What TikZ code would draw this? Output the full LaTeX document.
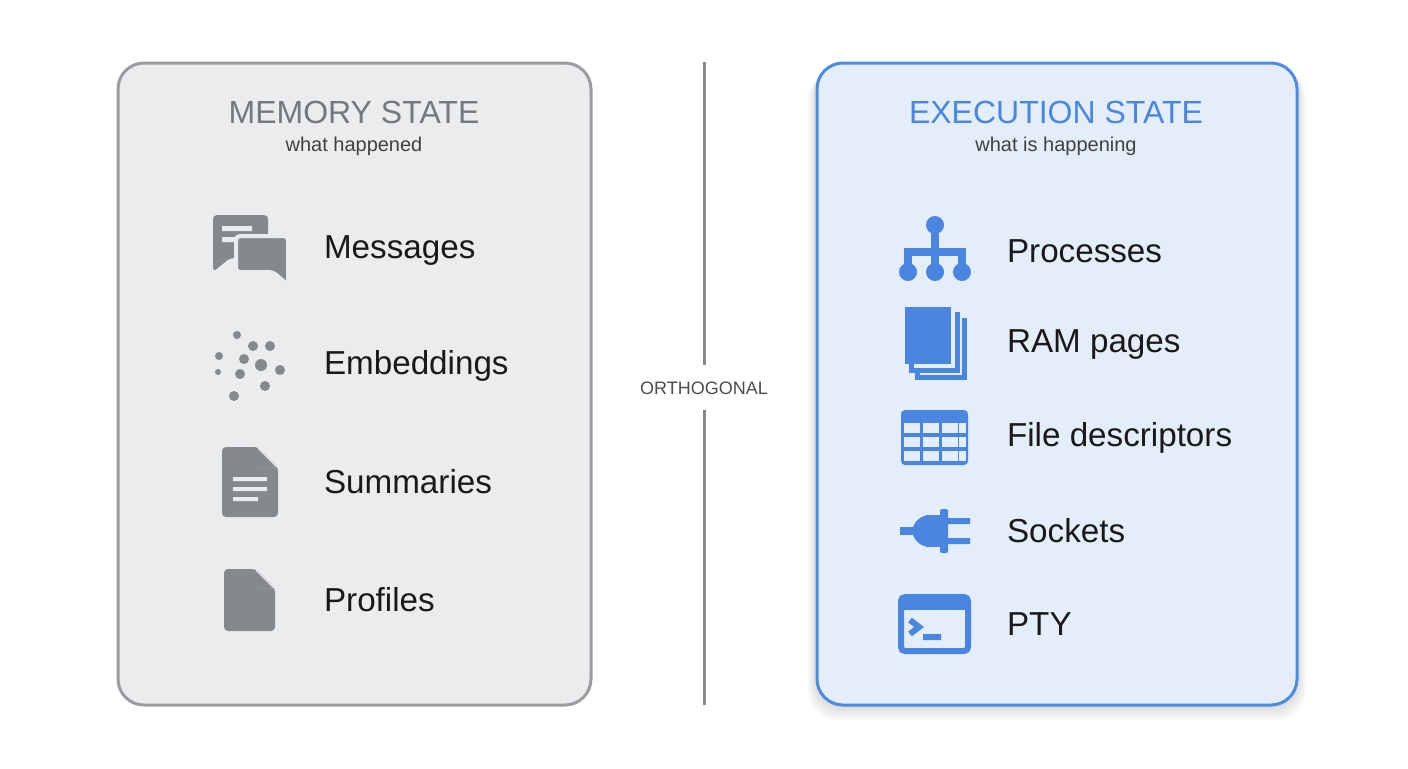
\documentclass[tikz,border=0pt]{standalone}
\usepackage{fontspec}
\setmainfont{Liberation Sans}
\definecolor{gbg}{HTML}{EBECEE}
\definecolor{gbd}{HTML}{9A9CA0}
\definecolor{gic}{HTML}{85888C}
\definecolor{gtx}{HTML}{75787C}
\definecolor{bbg}{HTML}{E4EEFB}
\definecolor{bbd}{HTML}{4C8BE0}
\definecolor{bic}{HTML}{4A86E0}
\begin{document}
\begin{tikzpicture}[x=0.5pt,y=-0.5pt,
 panel/.style={rounded corners=13pt,line width=1.5pt},
 ttl/.style={font=\fontsize{16}{19}\selectfont},
 sub/.style={font=\fontsize{10}{12}\selectfont,text=black!75},
 lab/.style={anchor=west,font=\fontsize{16.6}{19}\selectfont,text=black!90},
 gi/.style={fill=gic,draw=none},
 bi/.style={fill=bic,draw=none}]
\useasboundingbox[fill=white] (0,0) rectangle (1408,768);
\draw[panel,fill=gbg,draw=gbd] (118,63) rectangle (591,705);
\foreach \i in {1,...,6}
  \fill[black,opacity=0.025,rounded corners=14pt] (817-\i*1.5,63+\i*1.5) rectangle (1297+\i*1.5,705+\i*2.5);
\draw[panel,fill=bbg,draw=bbd] (817,63) rectangle (1297,705);
\node (mt) [ttl,text=gtx] at (354,112) {MEMORY STATE};
\node (ms) [sub] at (354,146) {what happened};
\node (et) [ttl,text=bic] at (1056,112) {EXECUTION STATE};
\node (es) [sub] at (1056,146) {what is happening};
\node (orth) [font=\fontsize{9}{11}\selectfont,text=black!70] at (704,388) {ORTHOGONAL};
\coordinate (d1) at (704,62); \coordinate (d2) at (704,705);
\draw[line width=1.5pt,gic] (d1) -- (orth.north|-0,365);
\draw[line width=1.5pt,gic] (orth.south|-0,410) -- (d2);
% left labels
\node (l1) [lab] at (317,251) {Messages};
\node (l2) [lab] at (317,366) {Embeddings};
\node (l3) [lab] at (317,482) {Summaries};
\node (l4) [lab] at (317,600) {Profiles};
% messages icon
\fill[gi,rounded corners=2pt] (213,215) -- (268,215) -- (268,258) -- (230,258) -- (213,272) -- cycle;
\fill[gbg] (222,226) rectangle (252,231) (222,237) rectangle (244,242);
\draw[gbg,line width=2pt,fill=gic,rounded corners=2pt] (236,236) -- (288,236) -- (288,285) -- (273,272) -- (236,272) -- cycle;
% embeddings dots
\foreach \x/\y/\r in {237/335/4,253/346/5,270/346/5,219/356/4,244/359/5,261/365/6,280/370/5,240/374/5,218/372/3,265/386/5,234/396/5}
  \fill[gi] (\x,\y) circle (\r);
% summaries doc
\fill[gi,rounded corners=2pt] (222,447) -- (258,447) -- (278,467) -- (278,517) -- (222,517) -- cycle;
\fill[gbg] (258,447) -- (258,467) -- (278,467) -- cycle;
\fill[gi] (258,449) -- (258,467) -- (276,467) -- cycle;
\fill[gbg] (233,477) rectangle (267,481) (233,487) rectangle (267,491) (233,497) rectangle (258,501);
% profiles doc
\fill[gi,rounded corners=2pt] (224,569) -- (256,569) -- (275,588) -- (275,631) -- (224,631) -- cycle;
\fill[gbg] (256,569) -- (256,588) -- (275,588) -- cycle;
\fill[gi] (256,571) -- (256,588) -- (273,588) -- cycle;
% right labels
\node (r1) [lab] at (1000,251) {Processes};
\node (r2) [lab] at (1000,345) {RAM pages};
\node (r3) [lab] at (1000,438) {File descriptors};
\node (r4) [lab] at (1000,531) {Sockets};
\node (r5) [lab] at (1000,624) {PTY};
% processes
\draw[bic,line width=4pt] (935,225) -- (935,252) (908,270) -- (908,252) -- (962,252) -- (962,270) (935,252) -- (935,270);
\fill[bi] (935,225) circle (9) (908,272) circle (9) (935,272) circle (9) (962,272) circle (9);
% RAM pages
\draw[bic,line width=2.5pt] (917,318) -- (917,377) -- (964,377) -- (964,318);
\draw[bic,line width=2.5pt,fill=bbg] (911,312) -- (911,370) -- (957,370) -- (957,312);
\fill[bi] (905,307) rectangle (951,364);
% file descriptors table
\fill[bi,rounded corners=2pt] (901,410) rectangle (968,465);
\foreach \x in {903,922,941} \foreach \y in {423,437,451}
  \fill[bbg] (\x+1,\y) rectangle (\x+17,\y+10);
\foreach \y in {423,437,451} \fill[bbg] (959,\y) rectangle (966,\y+10);
% sockets plug
\fill[bi] (900,527) rectangle (918,535);
\fill[bi,rounded corners=9pt] (912,515) rectangle (944,547);
\fill[bi] (928,515) rectangle (944,547);
\fill[bi,rounded corners=1pt] (940,509) rectangle (948,553);
\fill[bi] (948,518) rectangle (970,524) (948,538) rectangle (970,544);
% PTY terminal
\draw[bic,line width=3pt,fill=bbg,rounded corners=2pt] (901,597) rectangle (968,651);
\fill[bi] (901,597) rectangle (968,610);
\draw[bic,line width=3pt] (910,620) -- (919,627) -- (910,634) (923,637) -- (941,637);
\end{tikzpicture}
\end{document}
